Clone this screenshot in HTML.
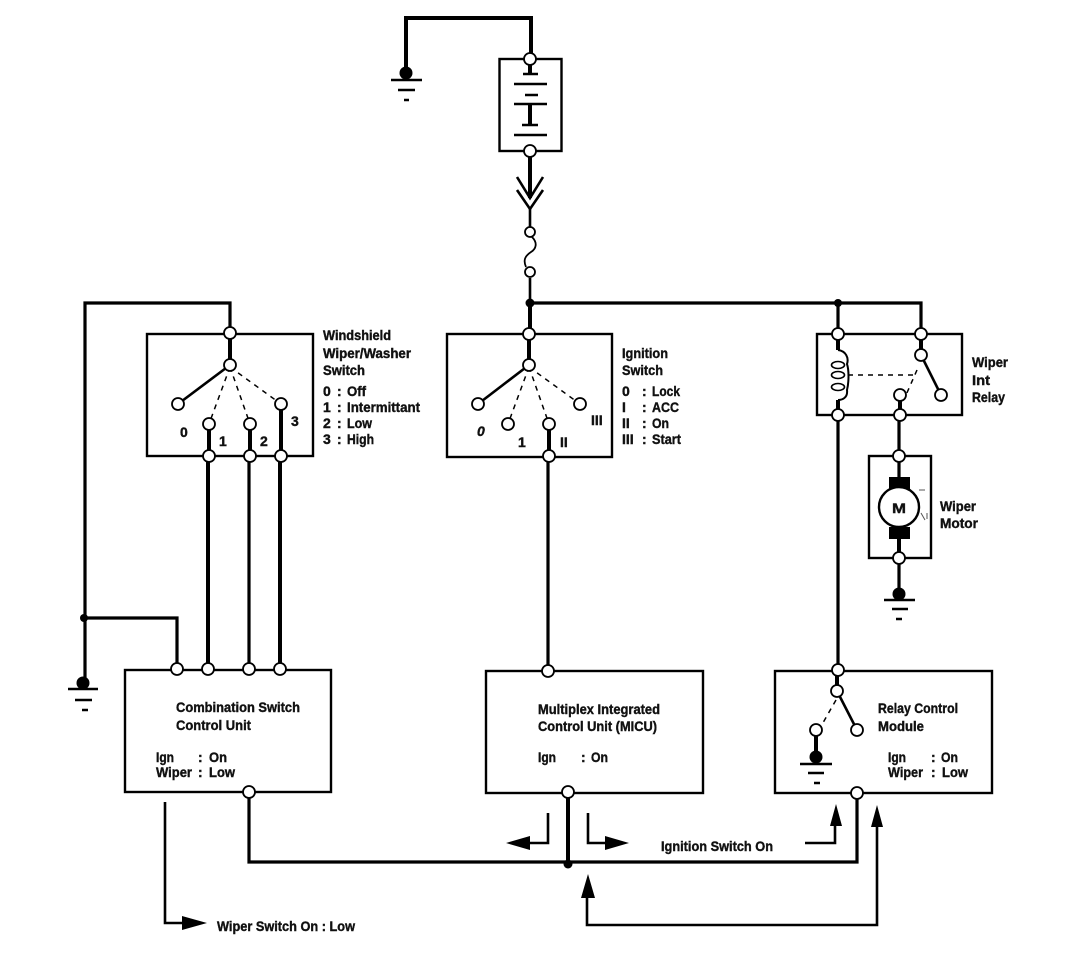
<!DOCTYPE html>
<html><head><meta charset="utf-8"><style>
html,body{margin:0;padding:0;background:#fff}
svg{display:block}
text{font-family:"Liberation Sans",sans-serif;font-weight:bold;font-size:14px;fill:#111;stroke:#111;stroke-width:.4}
.c{fill:#fff;stroke:#000;stroke-width:1.8}
.b{fill:none;stroke:#000;stroke-width:2.4}
.t{fill:none;stroke:#000;stroke-width:4}
.w{fill:none;stroke:#000;stroke-width:3.2}
.m{fill:none;stroke:#000;stroke-width:2.6}
.d{fill:none;stroke:#000;stroke-width:1.5;stroke-dasharray:5 5}
.f{fill:#000;stroke:none}
</style></head><body>
<svg width="1088" height="972" viewBox="0 0 1088 972" xmlns="http://www.w3.org/2000/svg">
<!-- boxes -->
<rect class="b" x="499.5" y="59" width="62" height="92"/>
<rect class="b" x="147" y="334" width="166" height="122"/>
<rect class="b" x="447" y="334" width="165" height="123"/>
<rect class="b" x="817" y="334" width="145" height="81"/>
<rect class="b" x="869" y="456" width="62" height="102"/>
<rect class="b" x="125" y="670" width="206" height="122"/>
<rect class="b" x="486" y="671" width="217" height="122"/>
<rect class="b" x="775" y="671" width="217" height="122"/>
<!-- top wires -->
<path class="t" d="M406 72V18H531V59"/>
<circle class="f" cx="406" cy="73" r="6.5"/>
<path class="m" d="M391 80H422M398 90H415M404 100H409"/>
<path class="t" d="M530 65V75M530 104V125M530 151V198"/>
<path class="m" d="M514 84H547M514 104H547M514 135H547M523 74H538M525 95H538M522 125H538"/>
<path class="m" d="M517 177L530 198L543 177M517 190L530 209L543 190"/>
<path class="m" d="M530 208V228M530 278V303"/>
<path d="M532 237C538 243 536 249 531 252C525 256 523 260 526 267" fill="none" stroke="#000" stroke-width="1.8"/>
<path class="w" d="M530 303H921V334M838 303V334M230 334V303H85V680M84 618H177V669"/>
<path class="t" d="M530 303V334"/>
<circle class="f" cx="530" cy="303" r="4.5"/><circle class="f" cx="838" cy="303" r="4"/><circle class="f" cx="84" cy="618" r="4"/>
<circle class="f" cx="83" cy="683" r="6.5"/>
<path class="m" d="M68 689H98M75 700H92M82 710H88"/>
<!-- windshield switch -->
<path class="t" d="M230 334V365M209 424V456M250 424V456M281 404V456"/>
<path class="t" d="M208 456V669M280 456V669"/>
<path class="w" d="M249 456V669"/>
<path class="m" d="M230 365L178 404"/>
<path class="d" d="M230 367L209 424M230 367L250 424M230 367L281 404"/>
<!-- ignition switch -->
<path class="t" d="M529 334V365M549 424V456"/>
<path class="w" d="M548 456V671"/>
<path class="m" d="M529 365L478 404"/>
<path class="d" d="M529 367L508 424M529 367L549 424M529 367L580 404"/>
<!-- relay -->
<path class="t" d="M838 334V350M921 334V355M838 400V415M900 395V415M899 538V558"/>
<path class="w" d="M899 415V477M899 558V595M838 415V670"/>
<path class="t" d="M837 670V691"/>
<path class="m" d="M921 355L941 395M837 691L857 730"/>
<path d="M838 350C846 351 849 358 847 364C849 370 849 382 847 390C848 398 842 400 838 400" fill="none" stroke="#000" stroke-width="2"/>
<ellipse cx="838" cy="365" rx="6.5" ry="3.5" fill="none" stroke="#000" stroke-width="1.6"/>
<ellipse cx="838" cy="375" rx="6.5" ry="3.5" fill="none" stroke="#000" stroke-width="1.6"/>
<ellipse cx="838" cy="387" rx="6.5" ry="3.5" fill="none" stroke="#000" stroke-width="1.6"/>
<path class="d" d="M848 375H916M917 370L906 395M836 700L820 728"/>
<!-- motor -->
<rect class="f" x="889" y="477" width="21" height="12"/>
<rect class="f" x="889" y="527" width="21" height="12"/>
<circle cx="899" cy="507" r="20" fill="#fff" stroke="#000" stroke-width="2.4"/>
<path d="M919 490H925M921 513L925 520M927 513V519" stroke="#555" stroke-width="1" fill="none"/>
<circle class="f" cx="899" cy="594" r="6.5"/>
<path class="m" d="M884 600H915M892 609H908M896 619H902"/>
<!-- relay control -->
<path class="t" d="M816 735V755"/>
<circle class="f" cx="816" cy="757" r="6.5"/>
<path class="m" d="M800 764H832M808 773H824M814 783H820"/>
<!-- bottom bus -->
<path class="w" d="M249 792V862H857V793"/>
<path class="t" d="M568 793V863"/>
<circle class="f" cx="568" cy="864" r="4.5"/>
<!-- thin arrows -->
<path class="m" d="M165 802V923H185M548 813V843H528M588 813V843H606M805 843H835V826M587 896V925H877V826"/>
<path class="f" d="M182 916L207 923L182 930ZM530 836L506 843L530 850ZM605 836L629 843L605 850ZM830 826L836 804L842 826ZM581 898L588 874L595 898ZM871 827L877 805L883 827Z"/>
<!-- terminals -->
<g class="c">
<circle cx="530" cy="59" r="6"/><circle cx="530" cy="151" r="6"/><circle cx="530" cy="232" r="5"/><circle cx="530" cy="272" r="5"/>
<circle cx="230" cy="333" r="6"/><circle cx="230" cy="365" r="6"/><circle cx="178" cy="404" r="6"/><circle cx="209" cy="424" r="6"/><circle cx="250" cy="424" r="6"/><circle cx="281" cy="404" r="6"/><circle cx="209" cy="456" r="6"/><circle cx="250" cy="456" r="6"/><circle cx="281" cy="456" r="6"/>
<circle cx="529" cy="334" r="6"/><circle cx="529" cy="365" r="6"/><circle cx="478" cy="404" r="6"/><circle cx="508" cy="424" r="6"/><circle cx="549" cy="424" r="6"/><circle cx="580" cy="404" r="6"/><circle cx="549" cy="456" r="6"/>
<circle cx="838" cy="334" r="6"/><circle cx="921" cy="334" r="6"/><circle cx="921" cy="355" r="6"/><circle cx="941" cy="395" r="6"/><circle cx="900" cy="395" r="6"/><circle cx="838" cy="415" r="6"/><circle cx="900" cy="415" r="6"/>
<circle cx="899" cy="456" r="6"/><circle cx="899" cy="558" r="6"/>
<circle cx="177" cy="669" r="6"/><circle cx="208" cy="669" r="6"/><circle cx="249" cy="669" r="6"/><circle cx="280" cy="669" r="6"/><circle cx="249" cy="792" r="6"/>
<circle cx="548" cy="671" r="6"/><circle cx="568" cy="792" r="6"/>
<circle cx="838" cy="670" r="6"/><circle cx="837" cy="691" r="6"/><circle cx="857" cy="730" r="6"/><circle cx="816" cy="730" r="6"/><circle cx="857" cy="793" r="6"/>
</g>
<!-- labels -->
<text x="323" y="340" textLength="68" lengthAdjust="spacingAndGlyphs">Windshield</text>
<text x="323" y="358" textLength="88" lengthAdjust="spacingAndGlyphs">Wiper/Washer</text>
<text x="323" y="375" textLength="42" lengthAdjust="spacingAndGlyphs">Switch</text>
<text x="323" y="396">0</text><text x="337" y="396">:</text><text x="347" y="396" textLength="19" lengthAdjust="spacingAndGlyphs">Off</text>
<text x="323" y="412">1</text><text x="337" y="412">:</text><text x="347" y="412" textLength="73" lengthAdjust="spacingAndGlyphs">Intermittant</text>
<text x="323" y="428">2</text><text x="337" y="428">:</text><text x="347" y="428" textLength="25" lengthAdjust="spacingAndGlyphs">Low</text>
<text x="323" y="444">3</text><text x="337" y="444">:</text><text x="347" y="444" textLength="27" lengthAdjust="spacingAndGlyphs">High</text>
<text x="180" y="437">0</text><text x="219" y="446">1</text><text x="260" y="446">2</text><text x="291" y="426">3</text>
<text x="622" y="358" textLength="46" lengthAdjust="spacingAndGlyphs">Ignition</text>
<text x="622" y="375" textLength="41" lengthAdjust="spacingAndGlyphs">Switch</text>
<text x="622" y="396">0</text><text x="642" y="396">:</text><text x="652" y="396" textLength="28" lengthAdjust="spacingAndGlyphs">Lock</text>
<text x="622" y="412">I</text><text x="642" y="412">:</text><text x="652" y="412" textLength="27" lengthAdjust="spacingAndGlyphs">ACC</text>
<text x="622" y="428">II</text><text x="642" y="428">:</text><text x="652" y="428" textLength="17" lengthAdjust="spacingAndGlyphs">On</text>
<text x="622" y="444">III</text><text x="642" y="444">:</text><text x="652" y="444" textLength="29" lengthAdjust="spacingAndGlyphs">Start</text>
<text x="477" y="436" font-style="italic">0</text><text x="518" y="447">1</text><text x="560" y="447">II</text><text x="591" y="425">III</text>
<text x="972" y="367" textLength="36" lengthAdjust="spacingAndGlyphs">Wiper</text>
<text x="972" y="385" textLength="18" lengthAdjust="spacingAndGlyphs">Int</text>
<text x="972" y="402" textLength="33" lengthAdjust="spacingAndGlyphs">Relay</text>
<text x="940" y="511" textLength="36" lengthAdjust="spacingAndGlyphs">Wiper</text>
<text x="940" y="528" textLength="38" lengthAdjust="spacingAndGlyphs">Motor</text>
<text x="892" y="513" textLength="14" lengthAdjust="spacingAndGlyphs">M</text>
<text x="176" y="712" textLength="124" lengthAdjust="spacingAndGlyphs">Combination Switch</text>
<text x="176" y="730" textLength="75" lengthAdjust="spacingAndGlyphs">Control Unit</text>
<text x="156" y="762" textLength="18" lengthAdjust="spacingAndGlyphs">Ign</text><text x="198" y="762">:</text><text x="209" y="762" textLength="18" lengthAdjust="spacingAndGlyphs">On</text>
<text x="156" y="777" textLength="36" lengthAdjust="spacingAndGlyphs">Wiper</text><text x="198" y="777">:</text><text x="209" y="777" textLength="26" lengthAdjust="spacingAndGlyphs">Low</text>
<text x="217" y="931" textLength="138" lengthAdjust="spacingAndGlyphs">Wiper Switch On : Low</text>
<text x="538" y="714" textLength="122" lengthAdjust="spacingAndGlyphs">Multiplex Integrated</text>
<text x="538" y="731" textLength="119" lengthAdjust="spacingAndGlyphs">Control Unit (MICU)</text>
<text x="538" y="762" textLength="18" lengthAdjust="spacingAndGlyphs">Ign</text><text x="581" y="762">:</text><text x="591" y="762" textLength="17" lengthAdjust="spacingAndGlyphs">On</text>
<text x="661" y="851" textLength="112" lengthAdjust="spacingAndGlyphs">Ignition Switch On</text>
<text x="878" y="713" textLength="80" lengthAdjust="spacingAndGlyphs">Relay Control</text>
<text x="878" y="731" textLength="46" lengthAdjust="spacingAndGlyphs">Module</text>
<text x="888" y="762" textLength="18" lengthAdjust="spacingAndGlyphs">Ign</text><text x="931" y="762">:</text><text x="941" y="762" textLength="17" lengthAdjust="spacingAndGlyphs">On</text>
<text x="888" y="777" textLength="35" lengthAdjust="spacingAndGlyphs">Wiper</text><text x="931" y="777">:</text><text x="942" y="777" textLength="26" lengthAdjust="spacingAndGlyphs">Low</text>
</svg>
</body></html>
